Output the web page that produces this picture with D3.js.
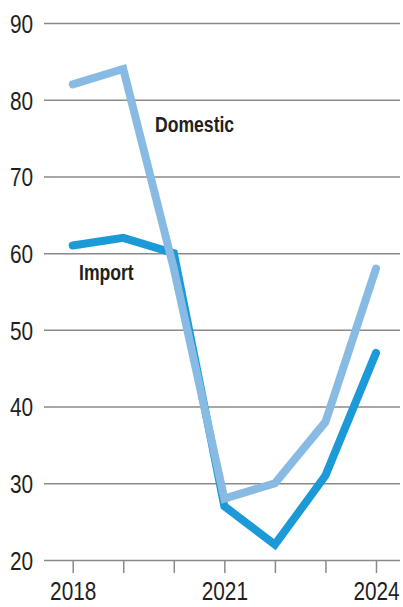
<!DOCTYPE html>
<html>
<head>
<meta charset="utf-8">
<script src="https://cdn.jsdelivr.net/npm/d3@7"></script>
<style>
  body { margin: 0; background: #fff; }
  text { font-family: "Liberation Sans", Arial, sans-serif; fill: #231f20; }
</style>
</head>
<body>
<div id="container"></div>
<script>
/* DATA */
const years = [2018, 2019, 2020, 2021, 2022, 2023, 2024];
const domestic = [82, 84, 58, 28, 30, 38, 58];
const imports = [61, 62, 60, 27, 22, 31, 47];
const yTicks = [20, 30, 40, 50, 60, 70, 80, 90];
const xLabels = [2018, 2021, 2024];

/* CONSTANTS */
const width = 403, height = 607;
const squeeze = 0.8; // condensed look for the text

// squash text horizontally but keep its anchor point
function condense(sel) {
  sel.each(function () {
    const t = d3.select(this);
    const x = +t.attr("x") || 0;
    t.attr("x", x / squeeze)
      .attr("transform", `scale(${squeeze},1)`);
  });
}

const svg = d3.select("#container")
  .append("svg")
  .attr("width", width)
  .attr("height", height);

// SCALES
const xScale = d3.scaleLinear()
  .domain([2018, 2024])
  .range([72.7, 376]);

const yScale = d3.scaleLinear()
  .domain([20, 90])
  .range([560, 23]);

// GRIDLINES + Y LABELS
const yAxis = d3.axisLeft(yScale)
  .tickValues(yTicks)
  .tickSize(-(400 - 44))
  .tickPadding(11)
  .tickFormat(d3.format("d"));

const yAxisGroup = svg.append("g")
  .attr("transform", `translate(44,0)`)
  .call(yAxis);

yAxisGroup.select(".domain").remove();
yAxisGroup.selectAll("line")
  .attr("stroke", "#8a8a8a")
  .attr("stroke-width", 1.5);
yAxisGroup.selectAll("text")
  .attr("font-size", 26)
  .attr("dy", "0.36em")
  .style("font-family", '"Liberation Sans", Arial, sans-serif')
  .attr("fill", "#231f20")
  .call(condense);

// X AXIS
const xAxis = d3.axisBottom(xScale)
  .tickValues(years)
  .tickSize(13)
  .tickFormat(d => xLabels.includes(d) ? d : "");

const xAxisGroup = svg.append("g")
  .attr("transform", `translate(0,560)`)
  .call(xAxis);

xAxisGroup.select(".domain").remove();
xAxisGroup.selectAll("line")
  .attr("stroke", "#8a8a8a")
  .attr("stroke-width", 1.5);
xAxisGroup.selectAll("text")
  .attr("font-size", 26)
  .attr("y", 22)
  .style("font-family", '"Liberation Sans", Arial, sans-serif')
  .attr("fill", "#231f20")
  .call(condense);

// LINES
const line = d3.line()
  .x((d, i) => xScale(years[i]))
  .y(d => yScale(d));

svg.append("path")
  .datum(imports)
  .attr("d", line)
  .attr("fill", "none")
  .attr("stroke", "#1b9ad7")
  .attr("stroke-width", 8)
  .attr("stroke-linecap", "round");

svg.append("path")
  .datum(domestic)
  .attr("d", line)
  .attr("fill", "none")
  .attr("stroke", "#88bbe3")
  .attr("stroke-width", 8)
  .attr("stroke-linecap", "round");

// SERIES LABELS
svg.append("text")
  .attr("x", 155)
  .attr("y", 132)
  .attr("font-size", 22)
  .attr("font-weight", "bold")
  .text("Domestic")
  .call(condense);

svg.append("text")
  .attr("x", 79)
  .attr("y", 280)
  .attr("font-size", 22)
  .attr("font-weight", "bold")
  .text("Import")
  .call(condense);
</script>
</body>
</html>
